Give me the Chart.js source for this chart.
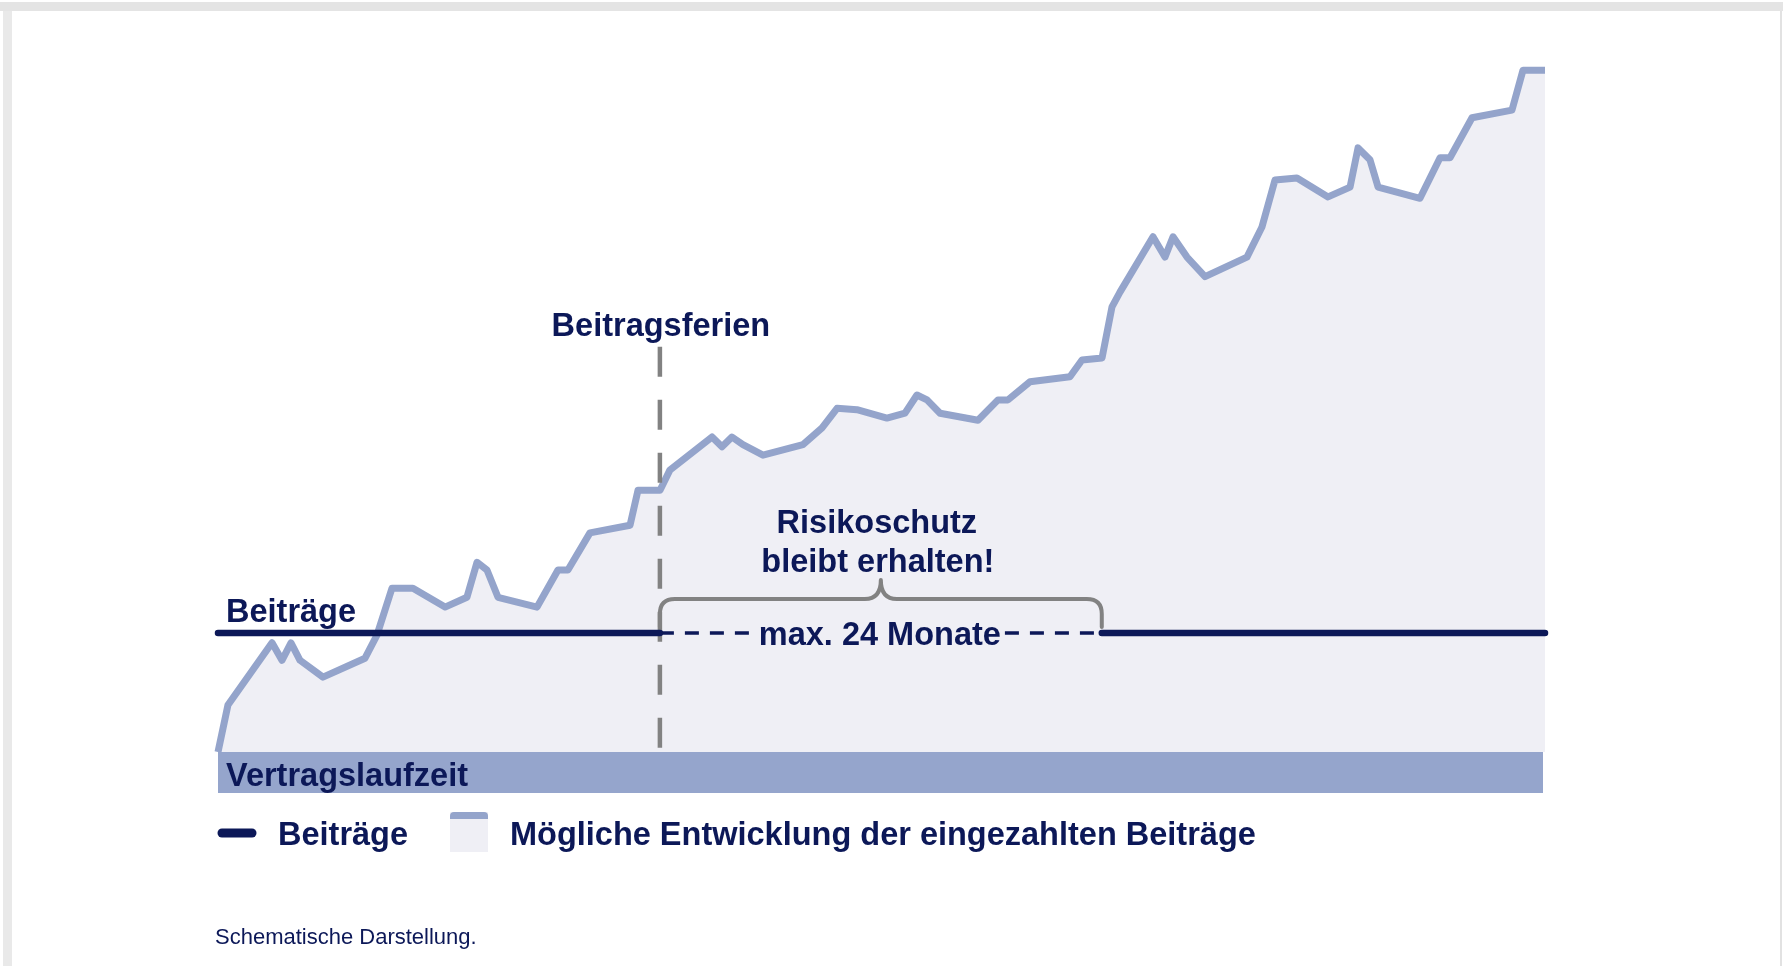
<!DOCTYPE html>
<html><head><meta charset="utf-8">
<script src="https://cdn.jsdelivr.net/npm/chart.js@4/dist/chart.umd.min.js"></script>
<style>
html,body{margin:0;padding:0;background:#fff;}
body{width:1783px;height:966px;position:relative;overflow:hidden;}
#top{position:absolute;left:0;top:2px;width:1783px;height:9px;background:#e4e4e4;}
#left{position:absolute;left:3px;top:11px;width:9px;height:955px;background:#e9e9e9;}
#right{position:absolute;left:1780px;top:11px;width:2px;height:955px;background:#e2e2e2;}
canvas{position:absolute;left:0;top:0;}
</style></head><body>
<div id="top"></div><div id="left"></div><div id="right"></div>
<canvas id="c" width="1783" height="966"></canvas>
<script>
// ---- data (x: share of contract term 0..100, y: value index) ----
const growthX = [0,0.75,4.07,4.82,5.5,6.18,7.91,11.08,11.98,13.11,14.69,17.11,18.76,19.52,20.27,21.1,24.04,25.62,26.37,28.03,31.05,31.65,33.31,34.06,37.23,37.98,38.73,39.56,41.07,44.08,45.52,46.65,48.15,50.41,51.77,52.67,53.43,54.41,57.27,58.78,59.53,61.19,64.2,65.11,66.62,67.37,67.97,70.46,71.36,71.97,73.02,74.38,77.54,78.67,79.65,81.31,83.65,85.31,85.91,86.81,87.42,90.58,92.09,92.84,94.5,97.51,98.34,100];
const growthY = [0,6.7,15.6,13.1,15.6,13.1,10.7,13.4,16.7,23.4,23.4,20.7,22.1,27.1,26.0,22.1,20.7,26.0,26.0,31.3,32.4,37.4,37.4,40.3,45.0,43.6,45.0,43.9,42.4,43.9,46.3,49.1,48.9,47.7,48.4,51.0,50.3,48.4,47.4,50.3,50.3,52.9,53.6,56.0,56.3,63.6,65.7,73.6,70.7,73.6,70.7,67.9,70.7,75.0,81.7,82.0,79.3,80.7,86.3,84.6,80.7,79.1,84.9,84.9,90.6,91.7,97.4,97.4];
const termStart = 0, termEnd = 100;
const beitragY = 17;
const pauseStart = 33.3, pauseEnd = 66.6;
const dashLeftEnd = 40.8, dashRightStart = 59.3;
const ferienTopY = 57.9;
const labels = {
  ferien: "Beitragsferien",
  risk1: "Risikoschutz",
  risk2: "bleibt erhalten!",
  months: "max. 24 Monate",
  beitraege: "Beiträge",
  term: "Vertragslaufzeit",
  legend1: "Beiträge",
  legend2: "Mögliche Entwicklung der eingezahlten Beiträge",
  note: "Schematische Darstellung."
};

const NAVY = '#0c1858';
const LINE = '#94a4cb';
const FILL = '#efeff5';
const GRAY = '#828282';
const FONT = '"Liberation Sans", Arial, sans-serif';

const growth = growthX.map((x, i) => ({x, y: growthY[i]}));

const deco = {
  id: 'deco',
  afterDatasetsDraw(chart) {
    const ctx = chart.ctx, xs = chart.scales.x, ys = chart.scales.y;
    const px = v => xs.getPixelForValue(v), py = v => ys.getPixelForValue(v);
    const base = py(0), by = py(beitragY);
    ctx.save();
    // contract term bar
    ctx.fillStyle = '#95a5cc';
    ctx.fillRect(px(termStart), base, px(termEnd) - px(termStart) - 2, 41);
    // brace
    const x0 = px(pauseStart), x1 = px(pauseEnd), xm = (x0 + x1) / 2;
    const yTop = by - 34, yEnd = by - 6, yTip = by - 53, r = 15, r2 = 16;
    ctx.strokeStyle = GRAY; ctx.lineWidth = 4; ctx.lineCap = 'round'; ctx.lineJoin = 'round';
    ctx.beginPath();
    ctx.moveTo(x0, yEnd);
    ctx.lineTo(x0, yTop + r);
    ctx.quadraticCurveTo(x0, yTop, x0 + r, yTop);
    ctx.lineTo(xm - r2, yTop);
    ctx.quadraticCurveTo(xm, yTop, xm, yTip);
    ctx.quadraticCurveTo(xm, yTop, xm + r2, yTop);
    ctx.lineTo(x1 - r, yTop);
    ctx.quadraticCurveTo(x1, yTop, x1, yTop + r);
    ctx.lineTo(x1, yEnd);
    ctx.stroke();
    // texts
    ctx.fillStyle = NAVY;
    ctx.font = 'bold 32.5px ' + FONT;
    ctx.textBaseline = 'alphabetic';
    ctx.textAlign = 'center';
    ctx.fillText(labels.ferien, x0 + 1, py(ferienTopY) - 11);
    ctx.fillText(labels.risk1, xm - 4, by - 100);
    ctx.fillText(labels.risk2, xm - 3, by - 61);
    ctx.fillText(labels.months, xm - 1, by + 12);
    ctx.textAlign = 'left';
    ctx.fillText(labels.beitraege, px(termStart) + 8, by - 11);
    ctx.fillText(labels.term, px(termStart) + 8, base + 34);
    // legend
    const ly = base + 81;
    ctx.strokeStyle = NAVY; ctx.lineWidth = 9; ctx.lineCap = 'round';
    ctx.beginPath(); ctx.moveTo(px(termStart) + 4, ly); ctx.lineTo(px(termStart) + 34, ly); ctx.stroke();
    ctx.fillText(labels.legend1, px(termStart) + 60, ly + 12);
    const mx = px(termStart) + 232;
    ctx.fillStyle = FILL; ctx.fillRect(mx, ly - 21, 38, 40);
    ctx.fillStyle = LINE;
    ctx.beginPath(); ctx.roundRect(mx, ly - 21, 38, 7, [4, 4, 0, 0]); ctx.fill();
    ctx.fillStyle = NAVY;
    ctx.fillText(labels.legend2, mx + 60, ly + 12);
    // note
    ctx.font = '22px ' + FONT;
    ctx.fillText(labels.note, px(termStart) - 3, base + 192);
    ctx.restore();
  }
};

new Chart(document.getElementById('c'), {
  type: 'line',
  data: {
    datasets: [
      { data: [{x: termStart, y: beitragY}, {x: pauseStart, y: beitragY}], borderColor: NAVY, borderWidth: 6.5, borderCapStyle: 'round', order: 0, clip: false },
      { data: [{x: pauseEnd, y: beitragY}, {x: termEnd, y: beitragY}], borderColor: NAVY, borderWidth: 6.5, borderCapStyle: 'round', order: 0, clip: false },
      { data: [{x: pauseStart, y: beitragY}, {x: dashLeftEnd, y: beitragY}], borderColor: NAVY, borderWidth: 3.5, borderDash: [14, 11], order: 0, clip: false },
      { data: [{x: dashRightStart, y: beitragY}, {x: pauseEnd, y: beitragY}], borderColor: NAVY, borderWidth: 3.5, borderDash: [14, 11], order: 0, clip: false },
      { data: [{x: pauseStart, y: ferienTopY}, {x: pauseStart, y: 0}], borderColor: GRAY, borderWidth: 4.5, borderDash: [30, 23], order: 1, clip: false },
      { data: growth, borderColor: LINE, backgroundColor: FILL, fill: 'origin', borderWidth: 7, borderJoinStyle: 'round', order: 2, clip: false }
    ]
  },
  options: {
    responsive: false,
    animation: false,
    devicePixelRatio: 1,
    layout: { padding: { left: 218, right: 238, top: 52, bottom: 214 } },
    elements: { point: { radius: 0, hoverRadius: 0 }, line: { tension: 0 } },
    scales: {
      x: { type: 'linear', min: termStart, max: termEnd, display: false },
      y: { type: 'linear', min: 0, max: 100, display: false }
    },
    plugins: { legend: { display: false }, tooltip: { enabled: false } },
    events: []
  },
  plugins: [deco]
});
</script>
</body></html>
